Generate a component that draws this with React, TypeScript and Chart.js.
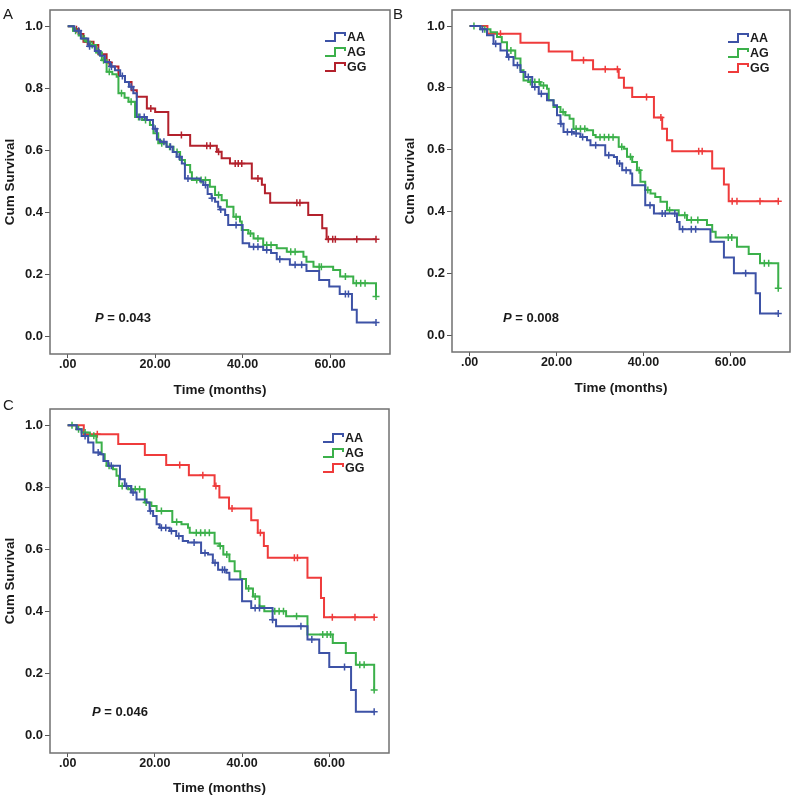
import React, { useEffect, useRef } from 'react';
import { Chart, registerables } from 'chart.js';

Chart.register(...registerables);
Chart.defaults.font.family = "'Liberation Sans', Arial, sans-serif";

const groupNames = ['AA', 'AG', 'GG'];
const xTickValues = [0, 20, 40, 60];
const yTickValues = [0, 0.2, 0.4, 0.6, 0.8, 1.0];
const panelLetters = ['A', 'B', 'C'];
const pValues = ['0.043', '0.008', '0.046'];

// ---------- Panel A ----------
const aTimeAA = [0, 1.5, 3, 4.7, 6.2, 7.4, 8.5, 9.7, 10.8, 12.0, 13.1, 14.0, 15.0, 15.8, 18.1, 19.5, 20.4, 21.1, 22.6, 24.0, 24.9, 26.1, 26.8, 30.3, 31.0, 32.0, 32.9, 33.7, 34.4, 34.8, 36.0, 36.7, 40.0, 41.5, 44.7, 46.5, 47.8, 50.8, 54.6, 57.5, 59.8, 62.2, 65.0, 66.1];
const aSurvAA = [1.0, 0.985, 0.96, 0.935, 0.92, 0.905, 0.885, 0.87, 0.858, 0.84, 0.82, 0.805, 0.784, 0.708, 0.698, 0.67, 0.635, 0.628, 0.612, 0.595, 0.58, 0.558, 0.51, 0.5, 0.489, 0.46, 0.446, 0.435, 0.419, 0.41, 0.392, 0.36, 0.301, 0.29, 0.28, 0.27, 0.25, 0.232, 0.212, 0.183, 0.162, 0.138, 0.087, 0.046];
const aCensAA = [2.5, 5.0, 7.0, 10.0, 12.5, 14.5, 16.5, 17.5, 20.0, 22.0, 23.5, 25.5, 27.5, 31.5, 33.0, 35.0, 38.5, 42.5, 43.5, 45.5, 48.5, 52.0, 53.5, 63.5, 64.2, 70.5];

const aTimeAG = [0, 1.2, 2.5, 3.2, 4.2, 5.1, 6.5, 7.8, 8.9, 10.2, 11.2, 11.6, 13.0, 13.9, 15.4, 17.0, 18.8, 19.6, 20.7, 22.6, 24.2, 25.7, 26.8, 28.0, 28.4, 32.5, 33.7, 35.2, 36.4, 37.9, 39.4, 39.8, 41.3, 42.5, 44.7, 47.8, 50.1, 53.9, 54.6, 56.2, 60.7, 62.3, 65.3, 70.5];
const aSurvAG = [1.0, 0.985, 0.97, 0.96, 0.95, 0.939, 0.915, 0.89, 0.853, 0.845, 0.837, 0.784, 0.77, 0.757, 0.708, 0.698, 0.682, 0.655, 0.623, 0.612, 0.595, 0.569, 0.553, 0.53, 0.505, 0.483, 0.457, 0.44, 0.419, 0.387, 0.371, 0.344, 0.333, 0.317, 0.296, 0.285, 0.274, 0.258, 0.242, 0.226, 0.215, 0.194, 0.173, 0.13];
const aCensAG = [1.8, 3.8, 5.6, 7.2, 8.2, 9.5, 12.3, 14.5, 16.2, 17.8, 21.5, 23.3, 25.0, 29.5, 30.5, 31.5, 34.5, 38.5, 41.8, 43.5, 45.5, 46.5, 51.0, 52.0, 57.5, 58.0, 63.5, 66.0, 67.0, 68.0, 70.5];

const aTimeGG = [0, 1.3, 2.5, 3.6, 5.9, 7.0, 8.9, 10.0, 11.6, 13.1, 14.6, 15.8, 18.1, 20.0, 23.0, 28.0, 34.1, 35.2, 37.1, 42.1, 44.4, 45.1, 46.3, 55.0, 58.2, 59.2];
const aSurvGG = [1.0, 0.99, 0.975, 0.95, 0.939, 0.91, 0.883, 0.87, 0.84, 0.82, 0.794, 0.773, 0.735, 0.724, 0.65, 0.615, 0.596, 0.575, 0.558, 0.51, 0.49, 0.462, 0.432, 0.392, 0.35, 0.314];
const aCensGG = [2.0, 4.5, 9.5, 19.0, 26.0, 31.8, 32.6, 34.5, 38.3, 39.0, 39.8, 43.5, 52.4, 53.1, 59.6, 60.6, 61.2, 66.1, 70.5];

// ---------- Panel B ----------
const bTimeAA = [0, 2.5, 4.0, 5.5, 7.1, 8.6, 10.1, 11.7, 12.8, 14.4, 15.9, 17.8, 19.3, 20.1, 20.9, 21.6, 23.9, 25.5, 27.0, 27.8, 31.2, 33.2, 33.9, 35.1, 37.0, 37.4, 40.4, 42.4, 47.7, 48.3, 55.4, 58.5, 60.8, 65.8, 66.8];
const bSurvAA = [1.0, 0.99, 0.97, 0.943, 0.921, 0.9, 0.873, 0.851, 0.835, 0.803, 0.781, 0.76, 0.744, 0.711, 0.684, 0.657, 0.652, 0.641, 0.63, 0.614, 0.582, 0.576, 0.555, 0.533, 0.523, 0.485, 0.42, 0.393, 0.366, 0.342, 0.302, 0.251, 0.2, 0.135, 0.07];
const bCensAA = [3.0, 6.0, 9.0, 11.0, 13.5, 15.0, 16.5, 21.0, 22.5, 23.5, 24.5, 26.0, 29.0, 32.0, 34.5, 36.0, 41.5, 44.3, 45.0, 47.2, 49.0, 51.0, 52.0, 63.5, 71.0];

const bTimeAG = [0, 2.5, 4.8, 6.3, 7.4, 8.6, 10.5, 11.7, 12.4, 13.6, 16.3, 17.8, 18.2, 19.3, 20.9, 22.0, 23.0, 23.9, 27.0, 28.4, 29.0, 34.3, 35.5, 36.2, 37.4, 38.5, 39.3, 40.4, 41.6, 42.7, 43.9, 45.4, 48.1, 50.0, 54.6, 55.8, 56.6, 61.5, 64.2, 66.8, 71.0];
const bSurvAG = [1.0, 0.99, 0.98, 0.965, 0.948, 0.921, 0.895, 0.857, 0.824, 0.819, 0.808, 0.797, 0.76, 0.738, 0.722, 0.711, 0.7, 0.668, 0.663, 0.647, 0.64, 0.609, 0.603, 0.577, 0.56, 0.533, 0.496, 0.469, 0.458, 0.447, 0.431, 0.404, 0.388, 0.372, 0.356, 0.334, 0.316, 0.286, 0.262, 0.232, 0.151];
const bCensAG = [1.0, 3.5, 9.5, 14.0, 15.0, 16.0, 17.0, 21.5, 24.5, 25.5, 26.5, 30.0, 31.0, 32.0, 33.0, 35.0, 37.0, 39.0, 41.0, 46.0, 49.5, 51.0, 52.5, 59.5, 60.3, 67.8, 68.8, 71.0];

const bTimeGG = [0, 4.1, 11.7, 18.2, 23.6, 28.4, 34.3, 35.5, 37.4, 42.4, 44.3, 45.4, 46.6, 55.8, 58.5, 59.6];
const bSurvGG = [1.0, 0.975, 0.946, 0.918, 0.889, 0.86, 0.833, 0.8, 0.77, 0.704, 0.668, 0.63, 0.595, 0.539, 0.487, 0.433];
const bCensGG = [7.1, 26.2, 31.2, 34.0, 40.7, 44.0, 52.7, 53.5, 60.4, 61.5, 66.8, 71.0];

// ---------- Panel C ----------
const cTimeAA = [0, 2.1, 3.2, 4.7, 5.9, 7.4, 8.2, 9.3, 12.0, 13.1, 14.6, 15.8, 18.1, 18.8, 19.6, 20.4, 21.1, 23.4, 24.9, 26.4, 27.6, 30.6, 32.2, 33.3, 34.5, 36.4, 37.1, 40.0, 42.1, 47.0, 47.8, 55.0, 57.7, 60.0, 65.0, 66.1];
const cSurvAA = [1.0, 0.987, 0.965, 0.944, 0.912, 0.906, 0.885, 0.869, 0.826, 0.804, 0.783, 0.761, 0.751, 0.724, 0.708, 0.681, 0.67, 0.659, 0.643, 0.627, 0.622, 0.589, 0.584, 0.557, 0.535, 0.525, 0.503, 0.433, 0.412, 0.374, 0.353, 0.31, 0.267, 0.222, 0.148, 0.078];
const cCensAA = [4.0, 7.0, 10.0, 13.5, 15.0, 19.0, 21.5, 22.5, 23.8, 25.5, 29.0, 31.5, 33.8, 35.5, 36.0, 43.0, 44.0, 47.0, 53.5, 56.0, 63.5, 70.3];

const cTimeAG = [0, 2.0, 3.2, 5.1, 6.6, 7.8, 8.5, 8.9, 10.4, 11.2, 11.8, 13.9, 17.7, 19.2, 20.4, 24.0, 26.1, 27.6, 28.0, 33.7, 34.8, 35.7, 37.1, 38.3, 39.6, 40.9, 42.5, 44.0, 45.1, 50.1, 55.0, 60.8, 63.8, 66.1, 70.3];
const cSurvAG = [1.0, 0.987, 0.976, 0.966, 0.944, 0.906, 0.885, 0.869, 0.858, 0.837, 0.804, 0.794, 0.751, 0.74, 0.724, 0.688, 0.681, 0.67, 0.654, 0.619, 0.611, 0.584, 0.562, 0.53, 0.505, 0.474, 0.449, 0.417, 0.401, 0.385, 0.326, 0.299, 0.267, 0.229, 0.148];
const cCensAG = [1.0, 2.5, 4.0, 6.0, 9.5, 12.5, 14.5, 15.5, 16.5, 18.0, 21.5, 25.0, 29.5, 30.5, 31.5, 32.5, 35.0, 36.5, 41.5, 43.0, 47.5, 48.5, 49.5, 52.5, 58.5, 59.5, 60.3, 67.0, 68.0, 70.3];

const cTimeGG = [0, 3.7, 11.6, 17.7, 22.6, 27.8, 33.7, 34.8, 37.0, 42.1, 43.6, 45.0, 45.9, 55.0, 58.1, 58.8];
const cSurvGG = [1.0, 0.971, 0.939, 0.904, 0.872, 0.839, 0.804, 0.767, 0.732, 0.694, 0.654, 0.611, 0.573, 0.509, 0.444, 0.382];
const cCensGG = [6.8, 25.7, 31.0, 34.0, 37.7, 44.2, 52.0, 52.7, 60.7, 65.9, 70.3];

const BLUE = '#3d52a6';
const GREEN = '#3bb04a';
const DARK_RED = '#b3212c';
const RED = '#ef3b3b';
const TEXT = '#1a1a1a';
const FONT = "'Liberation Sans', Arial, sans-serif";

type Group = { name: string; times: number[]; surv: number[]; cens: number[]; color: string };
type PanelSpec = {
  letter: string; p: string; groups: Group[];
  left: number; top: number; w: number; h: number;
  padTop: number; padRight: number; yW: number; xH: number; xTitlePad: number;
  legendX: number; legendY: number; pX: number; pY: number;
};

function survAt(times: number[], surv: number[], t: number) {
  let s = surv[0];
  for (let i = 0; i < times.length; i++) if (times[i] <= t + 1e-9) s = surv[i];
  return s;
}

const panels: PanelSpec[] = [
  {
    letter: panelLetters[0], p: pValues[0],
    groups: [
      { name: groupNames[0], times: aTimeAA, surv: aSurvAA, cens: aCensAA, color: BLUE },
      { name: groupNames[1], times: aTimeAG, surv: aSurvAG, cens: aCensAG, color: GREEN },
      { name: groupNames[2], times: aTimeGG, surv: aSurvGG, cens: aCensGG, color: DARK_RED },
    ],
    left: 0, top: 0, w: 400, h: 400, padTop: 10, padRight: 10, yW: 50, xH: 46, xTitlePad: 2,
    legendX: 325, legendY: 37, pX: 95, pY: 318,
  },
  {
    letter: panelLetters[1], p: pValues[1],
    groups: [
      { name: groupNames[0], times: bTimeAA, surv: bSurvAA, cens: bCensAA, color: BLUE },
      { name: groupNames[1], times: bTimeAG, surv: bSurvAG, cens: bCensAG, color: GREEN },
      { name: groupNames[2], times: bTimeGG, surv: bSurvGG, cens: bCensGG, color: RED },
    ],
    left: 400, top: 0, w: 400, h: 400, padTop: 10, padRight: 10, yW: 52, xH: 48, xTitlePad: 4,
    legendX: 328, legendY: 38, pX: 103, pY: 318,
  },
  {
    letter: panelLetters[2], p: pValues[2],
    groups: [
      { name: groupNames[0], times: cTimeAA, surv: cSurvAA, cens: cCensAA, color: BLUE },
      { name: groupNames[1], times: cTimeAG, surv: cSurvAG, cens: cCensAG, color: GREEN },
      { name: groupNames[2], times: cTimeGG, surv: cSurvGG, cens: cCensGG, color: RED },
    ],
    left: 0, top: 399, w: 400, h: 400, padTop: 10, padRight: 11, yW: 50, xH: 46, xTitlePad: 3,
    legendX: 323, legendY: 39, pX: 92, pY: 313,
  },
];

function KMPanel({ spec }: { spec: PanelSpec }) {
  const ref = useRef<HTMLCanvasElement | null>(null);
  useEffect(() => {
    if (!ref.current) return;
    const datasets: any[] = [];
    spec.groups.forEach((g) => {
      const pts = g.times.map((t, i) => ({ x: t, y: g.surv[i] }));
      const end = Math.max(...g.cens);
      if (end > g.times[g.times.length - 1]) pts.push({ x: end, y: g.surv[g.surv.length - 1] });
      datasets.push({
        type: 'line', label: g.name, data: pts, stepped: 'before',
        borderColor: g.color, borderWidth: 2, pointRadius: 0, fill: false,
      });
      datasets.push({
        type: 'scatter', label: g.name + ' censored',
        data: g.cens.map((t) => ({ x: t, y: survAt(g.times, g.surv, t) })),
        pointStyle: 'cross', pointRadius: 3.5, borderColor: g.color, backgroundColor: g.color,
        borderWidth: 1.5, showLine: false,
      });
    });

    const overlay = {
      id: 'overlay',
      afterDatasetsDraw(chart: any) {
        const { ctx, chartArea } = chart;
        ctx.save();
        ctx.strokeStyle = '#707070';
        ctx.lineWidth = 1.5;
        ctx.strokeRect(chartArea.left, chartArea.top, chartArea.right - chartArea.left, chartArea.bottom - chartArea.top);
        // legend
        spec.groups.forEach((g, i) => {
          const y = spec.legendY + i * 15;
          const x = spec.legendX;
          ctx.strokeStyle = g.color;
          ctx.lineWidth = 2;
          ctx.beginPath();
          ctx.moveTo(x, y + 4);
          ctx.lineTo(x + 10, y + 4);
          ctx.lineTo(x + 10, y - 4);
          ctx.lineTo(x + 20, y - 4);
          ctx.lineTo(x + 20, y - 1);
          ctx.stroke();
          ctx.fillStyle = TEXT;
          ctx.font = `bold 12.5px ${FONT}`;
          ctx.textBaseline = 'middle';
          ctx.textAlign = 'left';
          ctx.fillText(g.name, x + 22, y + 1);
        });
        // p value
        ctx.fillStyle = TEXT;
        ctx.textBaseline = 'middle';
        ctx.font = `italic bold 13px ${FONT}`;
        ctx.fillText('P', spec.pX, spec.pY);
        const pw = ctx.measureText('P').width;
        ctx.font = `bold 13px ${FONT}`;
        ctx.fillText(' = ' + spec.p, spec.pX + pw, spec.pY);
        ctx.restore();
      },
    };

    const chart = new Chart(ref.current, {
      type: 'line',
      data: { datasets },
      options: {
        responsive: false,
        animation: false,
        layout: { padding: { top: spec.padTop, right: spec.padRight, left: 0, bottom: 0 } },
        plugins: { legend: { display: false }, tooltip: { enabled: false } },
        scales: {
          x: {
            type: 'linear', min: -4.05, max: 73.7,
            afterFit: (s: any) => { s.height = spec.xH; },
            afterBuildTicks: (s: any) => { s.ticks = xTickValues.map((v) => ({ value: v })); },
            grid: { drawOnChartArea: false, drawTicks: true, tickLength: 4, color: '#555', lineWidth: 1 },
            border: { display: false },
            ticks: {
              callback: (v: any) => (Number(v) === 0 ? '.00' : Number(v).toFixed(2)),
              font: { size: 12.5, weight: 'bold' }, color: TEXT, padding: -1, maxRotation: 0, autoSkip: false,
            },
            title: { display: true, text: 'Time (months)', font: { size: 13.5, weight: 'bold' }, color: TEXT, padding: { top: 0, bottom: spec.xTitlePad } },
          },
          y: {
            type: 'linear', min: -0.055, max: 1.052,
            afterFit: (s: any) => { s.width = spec.yW; },
            afterBuildTicks: (s: any) => { s.ticks = yTickValues.map((v) => ({ value: v })); },
            grid: { drawOnChartArea: false, drawTicks: true, tickLength: 5, color: '#555', lineWidth: 1 },
            border: { display: false },
            ticks: {
              callback: (v: any) => Number(v).toFixed(1),
              font: { size: 13, weight: 'bold' }, color: TEXT, padding: 2,
            },
            title: { display: true, text: 'Cum Survival', font: { size: 13.5, weight: 'bold' }, color: TEXT, padding: { top: 2, bottom: 0 } },
          },
        },
      } as any,
      plugins: [overlay],
    });
    return () => chart.destroy();
  }, [spec]);

  return (
    <div style={{ position: 'absolute', left: spec.left, top: spec.top, width: spec.w, height: spec.h }}>
      <canvas ref={ref} width={spec.w} height={spec.h} style={{ width: spec.w, height: spec.h, display: 'block' }} />
    </div>
  );
}

export default function App() {
  return (
    <div style={{ position: 'absolute', left: 0, top: 0, width: 800, height: 799, background: '#fff', overflow: 'hidden' }}>
      {panels.map((p) => (
        <KMPanel key={p.letter} spec={p} />
      ))}
      <div style={{ position: 'absolute', left: 3, top: 6, font: `15px ${FONT}`, color: TEXT, lineHeight: '16px' }}>{panelLetters[0]}</div>
      <div style={{ position: 'absolute', left: 393, top: 6, font: `15px ${FONT}`, color: TEXT, lineHeight: '16px' }}>{panelLetters[1]}</div>
      <div style={{ position: 'absolute', left: 3, top: 397, font: `15px ${FONT}`, color: TEXT, lineHeight: '16px' }}>{panelLetters[2]}</div>
    </div>
  );
}
